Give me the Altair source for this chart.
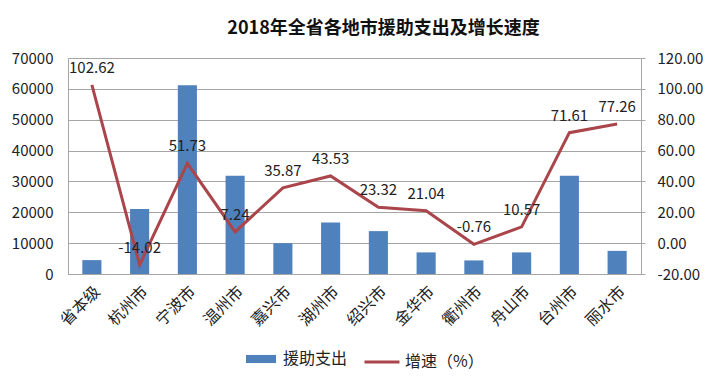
import altair as alt
import pandas as pd

FONT = "Noto Sans CJK SC"
BLUE = "#4F81BD"
RED = "#AA464B"
GRID = "#A6A6A6"

categories = ["省本级", "杭州市", "宁波市", "温州市", "嘉兴市", "湖州市",
              "绍兴市", "金华市", "衢州市", "舟山市", "台州市", "丽水市"]
aid = [4500, 21100, 61200, 31800, 10000, 16700, 13900, 7000, 4400, 7000, 31800, 7500]
growth = [102.62, -14.02, 51.73, 7.24, 35.87, 43.53, 23.32, 21.04, -0.76, 10.57, 71.61, 77.26]
left_ticks = [0, 10000, 20000, 30000, 40000, 50000, 60000, 70000]
right_ticks = [-20, 0, 20, 40, 60, 80, 100, 120]
series_names = ["援助支出", "增速（%）"]

df = pd.DataFrame({
    "地区": categories,
    "援助支出": aid,
    "增速": growth,
    "标签": [f"{v:.2f}" for v in growth],
    "s1": series_names[0],
    "s2": series_names[1],
})

base = alt.Chart(df)

x_enc = alt.X(
    "地区:N", sort=categories,
    scale=alt.Scale(paddingInner=0.6, paddingOuter=0.3),
    axis=alt.Axis(title=None, labelAngle=-45, labelFontSize=16, ticks=False,
                  domainColor=GRID, labelColor="#222", labelPadding=9,
                  labelFont=FONT),
)

bars = base.mark_bar(color=BLUE).encode(
    x=x_enc,
    y=alt.Y("援助支出:Q", scale=alt.Scale(domain=[0, 70000]),
            axis=alt.Axis(orient="left", values=left_ticks, title=None, grid=True,
                          gridColor=GRID, ticks=False, domainColor=GRID,
                          labelPadding=15, labelFontSize=15, format="d",
                          labelColor="#222", labelFont=FONT)),
    color=alt.Color("s1:N", scale=alt.Scale(domain=[series_names[0]], range=[BLUE]),
                    legend=alt.Legend(title=None, orient="none", legendX=177, legendY=285,
                                      symbolType="M-1,-0.27H1V0.27H-1Z", symbolSize=900,
                                      symbolOpacity=1, labelFontSize=16, labelFont=FONT,
                                      labelColor="#222", labelOffset=6)),
)

y_right = alt.Y("增速:Q", scale=alt.Scale(domain=[-20, 120]),
                axis=alt.Axis(orient="right", values=right_ticks, title=None,
                              labelExpr="replace(format(datum.value, '.2f'), '\u2212', '-')",
                              grid=False, tickSize=4, tickColor=GRID, domainColor=GRID,
                              labelPadding=12, labelFontSize=15, labelColor="#222",
                              labelFont=FONT))

line = base.mark_line(strokeWidth=3).encode(
    x=x_enc,
    y=y_right,
    stroke=alt.Stroke("s2:N", scale=alt.Scale(domain=[series_names[1]], range=[RED]),
                      legend=alt.Legend(title=None, orient="none", legendX=295, legendY=285,
                                        symbolType="stroke", symbolSize=1225,
                                        symbolStrokeWidth=3, labelFontSize=16,
                                        labelFont=FONT, labelColor="#222", labelOffset=4)),
)

labels = base.mark_text(dy=-17, fontSize=15, color="#222", font=FONT).encode(
    x=x_enc,
    y=y_right,
    text=alt.Text("标签:N"),
)

chart = alt.layer(bars, alt.layer(line, labels)).resolve_scale(
    y="independent", color="independent"
).properties(
    width=573, height=216,
    padding={"left": 3, "top": 12, "right": 5, "bottom": 5},
    title=alt.TitleParams("2018年全省各地市援助支出及增长速度", fontSize=18, font=FONT,
                          fontWeight="bold", offset=13, dx=29, color="#111"),
).configure_view(stroke=None).configure(font=FONT)

chart.save("out.html", embed_options={"renderer": "svg", "actions": False})
